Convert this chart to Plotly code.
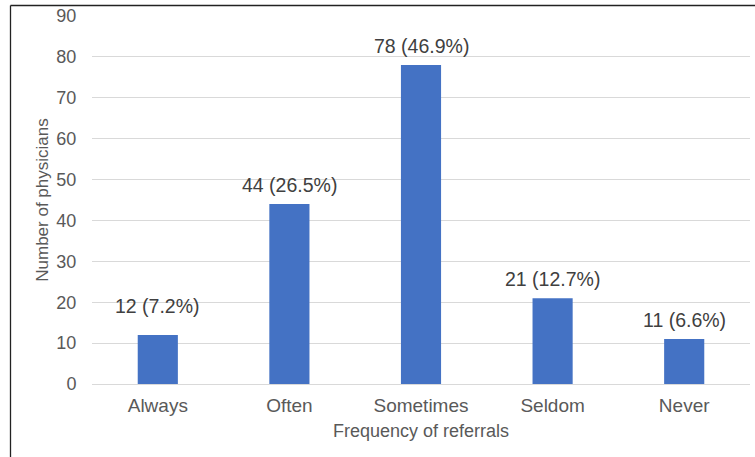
import plotly.graph_objects as go

# Survey results: how often physicians make referrals
categories = ["Always", "Often", "Sometimes", "Seldom", "Never"]
counts = [12, 44, 78, 21, 11]
percents = [7.2, 26.5, 46.9, 12.7, 6.6]
y_ticks = [0, 10, 20, 30, 40, 50, 60, 70, 80, 90]

bar_color = "#4472C4"
tick_color = "#595959"
label_color = "#404040"
font_family = "Liberation Sans, Arial, sans-serif"

labels = [f"{c} ({p}%)" for c, p in zip(counts, percents)]

# pixel gap between each bar top and its value label
label_lift = {"Always": 16}
default_lift = 6

fig = go.Figure(
    go.Bar(
        x=categories,
        y=counts,
        marker=dict(color=bar_color, line=dict(width=0)),
        width=0.305,
        hoverinfo="skip",
    )
)

# value labels sitting above each bar
for cat, val, txt in zip(categories, counts, labels):
    fig.add_annotation(
        x=cat, y=val, text=txt, showarrow=False,
        yanchor="bottom", yshift=label_lift.get(cat, default_lift),
        font=dict(size=19.5, color=label_color, family=font_family),
    )

# frame lines on the left and top of the figure
L, T = 92, 16
PW, PH = 658, 368
def px_x(x):
    return (x - L) / PW
def px_y(y):
    return (T + PH - y) / PH

fig.add_shape(type="line", xref="paper", yref="paper",
              x0=px_x(10.5), x1=px_x(10.5), y0=px_y(5.5), y1=px_y(460),
              line=dict(color="#222222", width=1.3))
fig.add_shape(type="line", xref="paper", yref="paper",
              x0=px_x(10.5), x1=px_x(760), y0=px_y(5.5), y1=px_y(5.5),
              line=dict(color="#222222", width=1.3))

fig.update_layout(
    width=755, height=457,
    margin=dict(l=L, r=755 - L - PW, t=T, b=457 - T - PH),
    paper_bgcolor="white", plot_bgcolor="white",
    showlegend=False,
    font=dict(family=font_family, color=tick_color),
    xaxis=dict(
        title=dict(text="Frequency of referrals", standoff=9,
                   font=dict(size=18, color=tick_color)),
        tickfont=dict(size=19, color=tick_color),
        showline=False, showgrid=False,
        ticks="outside", ticklen=4, tickcolor="rgba(0,0,0,0)",
    ),
    yaxis=dict(
        title=dict(text="Number of physicians", standoff=3,
                   font=dict(size=17, color=tick_color)),
        range=[0, 90], tickvals=y_ticks,
        tickfont=dict(size=18, color=tick_color),
        showgrid=True, gridcolor="#D9D9D9", gridwidth=1,
        zeroline=True, zerolinecolor="#D9D9D9", zerolinewidth=1,
        showline=False, ticks="outside", ticklen=11, tickcolor="rgba(0,0,0,0)",
    ),
)

fig.write_html("out.html")
